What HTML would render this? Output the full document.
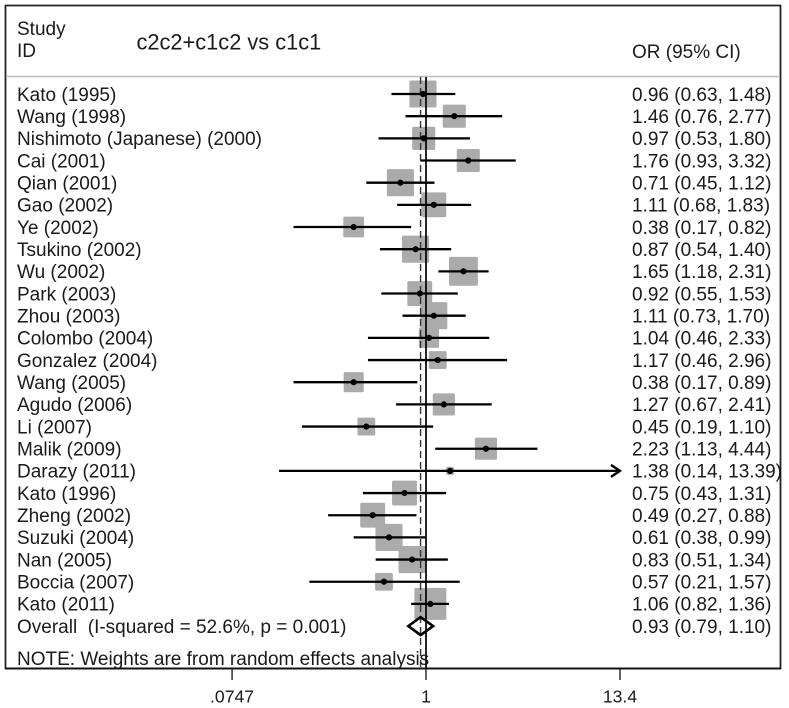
<!DOCTYPE html>
<html lang="en">
<head>
<meta charset="utf-8">
<title>Forest plot: c2c2+c1c2 vs c1c1</title>
<style>
html,body{margin:0;padding:0;background:#fff;}
svg{display:block;filter:blur(0.35px);}
text{font-family:"Liberation Sans",Arial,sans-serif;fill:#1a1a1a;font-size:19px;}
</style>
</head>
<body>
<svg id="chart" xmlns="http://www.w3.org/2000/svg" width="789" height="708" viewBox="0 0 789 708">
  <g id="frame">
    <line x1="5" y1="5.5" x2="781" y2="5.5" stroke="#222" stroke-width="1.8"/>
    <line x1="5.5" y1="5" x2="5.5" y2="669" stroke="#222" stroke-width="1.8"/>
    <line x1="780.5" y1="5" x2="780.5" y2="669" stroke="#222" stroke-width="1.8"/>
    <line x1="6" y1="76.5" x2="780" y2="76.5" stroke="#bdbdbd" stroke-width="1.5"/>
  </g>
  <text x="17" y="35">Study</text>
  <text x="17" y="57">ID</text>
  <text x="136.500" y="49.500" style="font-size:21.8px">c2c2+c1c2 vs c1c1</text>
  <text x="632" y="58">OR (95% CI)</text>
  <g id="boxes"></g>
  <g id="refs"></g>
  <g id="marks"></g>
  <g id="labels"></g>
  <g id="values"></g>
  <text x="17" y="665">NOTE: Weights are from random effects analysis</text>
  <line x1="5" y1="668.5" x2="781" y2="668.5" stroke="#111" stroke-width="2"/>
  <g id="axis"></g>
</svg>
<script>
const studies = ["Kato (1995)","Wang (1998)","Nishimoto (Japanese) (2000)","Cai (2001)","Qian (2001)","Gao (2002)","Ye (2002)","Tsukino (2002)","Wu (2002)","Park (2003)","Zhou (2003)","Colombo (2004)","Gonzalez (2004)","Wang (2005)","Agudo (2006)","Li (2007)","Malik (2009)","Darazy (2011)","Kato (1996)","Zheng (2002)","Suzuki (2004)","Nan (2005)","Boccia (2007)","Kato (2011)"];
const orValues = [0.96,1.46,0.97,1.76,0.71,1.11,0.38,0.87,1.65,0.92,1.11,1.04,1.17,0.38,1.27,0.45,2.23,1.38,0.75,0.49,0.61,0.83,0.57,1.06];
const ciLower = [0.63,0.76,0.53,0.93,0.45,0.68,0.17,0.54,1.18,0.55,0.73,0.46,0.46,0.17,0.67,0.19,1.13,0.14,0.43,0.27,0.38,0.51,0.21,0.82];
const ciUpper = [1.48,2.77,1.80,3.32,1.12,1.83,0.82,1.40,2.31,1.53,1.70,2.33,2.96,0.89,2.41,1.10,4.44,13.39,1.31,0.88,0.99,1.34,1.57,1.36];
const weights = [5.1,3.7,3.7,3.7,5.1,4.3,3.0,5.1,5.8,4.3,5.1,2.8,2.2,2.8,3.4,2.2,3.4,0.44,4.3,4.3,5.1,5.1,2.2,7.1];
const overallLabel = "Overall  (I-squared = 52.6%, p = 0.001)";
const overallOR = 0.93;
const overallLower = 0.79;
const overallUpper = 1.10;
const tickValues = [0.0747,1,13.4];
const tickLabels = [".0747","1","13.4"];

const NS = "http://www.w3.org/2000/svg";
const ARROW_FROM = 13;
function xScale(v){ return 426 + Math.log(v) * 74.75; }
function yScale(i){ return 94 + i * 22.17; }
function boxSide(w){ return 12 * Math.sqrt(w); }
function make(parent, tag, attrs){
  const el = document.createElementNS(NS, tag);
  for (const k in attrs) el.setAttribute(k, attrs[k]);
  parent.appendChild(el);
  return el;
}
const boxes = document.getElementById('boxes');
const refs = document.getElementById('refs');
const marks = document.getElementById('marks');
const labels = document.getElementById('labels');
const values = document.getElementById('values');
const axis = document.getElementById('axis');

const nullLine = make(refs, 'line', {x1:xScale(1), x2:xScale(1), y1:77, y2:668, stroke:'#000', 'stroke-width':1.7});


const overallLine = make(refs, 'line', {x1:xScale(overallOR), x2:xScale(overallOR), y1:77, y2:668, stroke:'#333', 'stroke-width':1.4, 'stroke-dasharray':'7 4'});



studies.forEach(function(name, i){
  const y = yScale(i);
  const cx = xScale(orValues[i]);
  const s = boxSide(weights[i]);
  const box = make(boxes, 'rect', {x:cx - s/2, y:y - s/2, width:s, height:s, rx:1.5, fill:'#ababab'});
  
  
  const hi = xScale(ciUpper[i]);
  const ci = make(marks, 'line', {x1:xScale(ciLower[i]), x2:hi, y1:y, y2:y, stroke:'#000', 'stroke-width':2.3});
  
  
  if (ciUpper[i] > ARROW_FROM) {
    const arrow = make(marks, 'path', {d:'M' + (hi - 9) + ' ' + (y - 6) + 'L' + hi + ' ' + y + 'L' + (hi - 9) + ' ' + (y + 6), fill:'none', stroke:'#000', 'stroke-width':2.4});
    
    
  }
  const dot = make(marks, 'circle', {cx:cx, cy:y, r:3.1, fill:'#000'});
  
  
  const label = make(labels, 'text', {x:17, y:y + 6.8});
  label.textContent = name;
  
  
  const val = make(values, 'text', {x:632, y:y + 6.8});
  val.textContent = orValues[i].toFixed(2) + ' (' + ciLower[i].toFixed(2) + ', ' + ciUpper[i].toFixed(2) + ')';
  
  
});

const overallY = yScale(studies.length);
const diamond = make(marks, 'path', {d:'M' + xScale(overallLower) + ' ' + overallY + 'L' + xScale(overallOR) + ' ' + (overallY - 9) + 'L' + xScale(overallUpper) + ' ' + overallY + 'L' + xScale(overallOR) + ' ' + (overallY + 9) + 'Z', fill:'none', stroke:'#000', 'stroke-width':2.6});


const overallText = make(labels, 'text', {x:17, y:overallY + 6.8, style:'white-space:pre'});
overallText.textContent = overallLabel;


const overallVal = make(values, 'text', {x:632, y:overallY + 6.8});
overallVal.textContent = overallOR.toFixed(2) + ' (' + overallLower.toFixed(2) + ', ' + overallUpper.toFixed(2) + ')';



tickValues.forEach(function(v, i){
  const x = xScale(v);
  const tick = make(axis, 'line', {x1:x, x2:x, y1:669, y2:680, stroke:'#222', 'stroke-width':1.4});
  
  
  const t = make(axis, 'text', {x:x, y:702.5, 'text-anchor':'middle', style:'font-size:17.6px'});
  t.textContent = tickLabels[i];
  
  
});
</script>
</body>
</html>
